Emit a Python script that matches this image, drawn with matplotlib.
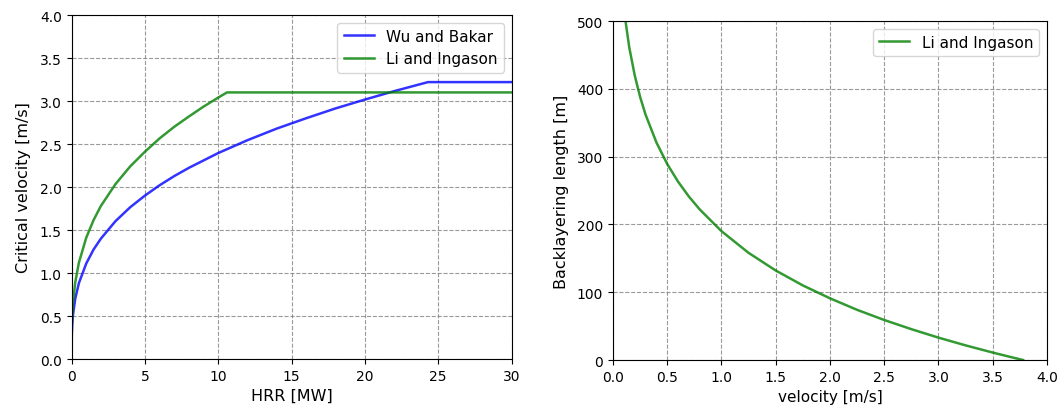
import matplotlib
matplotlib.use("Agg")
import matplotlib.pyplot as plt

# Left panel: critical velocity vs HRR
hrr_wu = [0, 0.02, 0.05, 0.1, 0.25, 0.5, 1, 1.5, 2, 3, 4, 5, 6, 7, 8, 10, 12, 14, 16, 18, 20, 22, 24.3, 30]
vel_wu = [0, 0.30, 0.41, 0.516, 0.70, 0.882, 1.11, 1.273, 1.40, 1.604, 1.765, 1.90, 2.02, 2.127, 2.223,
          2.395, 2.545, 2.68, 2.80, 2.914, 3.017, 3.115, 3.22, 3.22]

hrr_li = [0, 0.02, 0.05, 0.1, 0.25, 0.5, 1, 1.5, 2, 3, 4, 5, 6, 7, 8, 9, 10, 10.6, 30]
vel_li = [0, 0.383, 0.52, 0.655, 0.889, 1.12, 1.41, 1.615, 1.78, 2.035, 2.24, 2.41, 2.565, 2.70, 2.82,
          2.935, 3.04, 3.10, 3.10]

# Right panel: backlayering length vs velocity
bl_vel = [0.11, 0.15, 0.2, 0.25, 0.3, 0.4, 0.5, 0.6, 0.7, 0.8, 1.0, 1.25, 1.5, 1.75, 2.0, 2.25, 2.5, 2.75,
          3.0, 3.25, 3.5, 3.65, 3.78]
bl_len = [506, 461, 420, 388, 362, 321, 289, 263, 241, 222, 190, 158, 132, 110, 91, 74, 59, 45.5,
          33, 21.6, 11, 5, 0]

plt.rcParams['xtick.labelsize'] = 10
plt.rcParams['ytick.labelsize'] = 10

fig = plt.figure(figsize=(10.6, 4.14), dpi=100)
ax1 = fig.add_axes([0.0675, 0.1304, 0.4151, 0.8309])
ax2 = fig.add_axes([0.5783, 0.1280, 0.4094, 0.8188])

ax1.plot(hrr_wu, vel_wu, color='b', alpha=0.8, lw=1.8, label='Wu and Bakar')
ax1.plot(hrr_li, vel_li, color='g', alpha=0.8, lw=1.8, label='Li and Ingason')
ax1.set_xlim(0, 30)
ax1.set_ylim(0, 4.0)
ax1.set_xticks([0, 5, 10, 15, 20, 25, 30])
ax1.set_yticks([0.0, 0.5, 1.0, 1.5, 2.0, 2.5, 3.0, 3.5, 4.0])
ax1.set_xlabel('HRR [MW]', fontsize=11.5)
ax1.set_ylabel('Critical velocity [m/s]', fontsize=11.5, labelpad=6)
ax1.grid(True, linestyle='--', color='gray', alpha=0.8)
ax1.legend(loc='upper right', fontsize=11)

ax2.plot(bl_vel, bl_len, color='g', alpha=0.8, lw=1.8, label='Li and Ingason')
ax2.set_xlim(0, 4.0)
ax2.set_ylim(0, 500)
ax2.set_xticks([0.0, 0.5, 1.0, 1.5, 2.0, 2.5, 3.0, 3.5, 4.0])
ax2.set_yticks([0, 100, 200, 300, 400, 500])
ax2.set_xlabel('velocity [m/s]', fontsize=11)
ax2.set_ylabel('Backlayering length [m]', fontsize=11.5, labelpad=6)
ax2.grid(True, linestyle='--', color='gray', alpha=0.8)
ax2.legend(loc='upper right', fontsize=11)

fig.savefig('out.png', dpi=100)
